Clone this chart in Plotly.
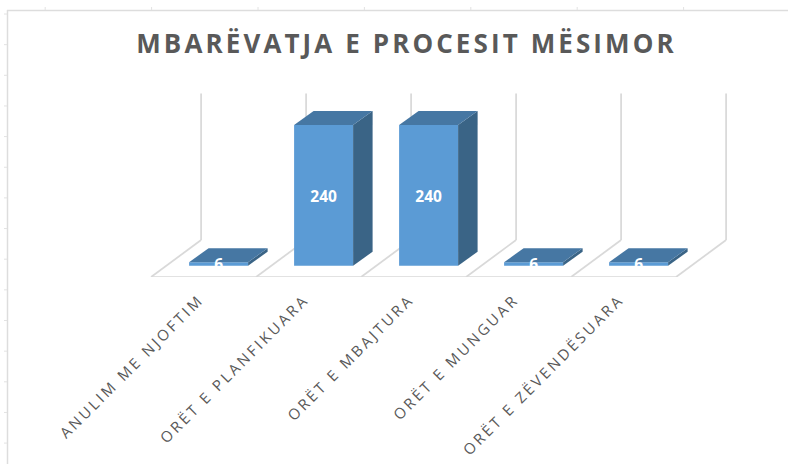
import plotly.graph_objects as go

categories = ["ANULIM ME NJOFTIM", "ORËT E PLANFIKUARA", "ORËT E MBAJTURA", "ORËT E MUNGUAR", "ORËT E ZËVENDËSUARA"]
values = [6, 240, 240, 6, 6]
axis_max = 250
title_text = "MBARËVATJA E PROCESIT MËSIMOR"

# picture scale of the category and value axes
W, H = 788, 464
PX_X = 105.0
PX_Y = 140.7 / 240
X0_PX = 218.6      # pixel of category 0 on the bars' plane
Y0_PX = 265.7      # pixel of value 0 on the bars' plane
FLOOR_PX = 277.0   # pixel of the front floor edge

BAR_W = 59 / PX_X
BAR_DX, BAR_DY = 19.5 / PX_X, 14 / PX_Y
FLOOR_LOW = -(FLOOR_PX - Y0_PX) / PX_Y
FLOOR_FX = -15 / PX_X
FLOOR_DX, FLOOR_DY = 50 / PX_X, 37 / PX_Y
TICK_FX = -19 / PX_X
LABEL_DROP = 2.5 / PX_Y

x_range = [-X0_PX / PX_X, (W - X0_PX) / PX_X]
y_range = [FLOOR_LOW, Y0_PX / PX_Y]

GRID = "#D9D9D9"
FRONT, TOP, SIDE = "#5B9BD5", "#4677A3", "#3A6486"

fig = go.Figure()
n = len(categories)
shapes = []

# floor and walls, behind the bars
grid_line = dict(color=GRID, width=1.75)
for k in range(n + 1):
    fx = k - 0.5 + FLOOR_FX
    rx, ry = fx + FLOOR_DX, FLOOR_LOW + FLOOR_DY
    shapes.append(dict(type="line", xref="x", yref="y", x0=fx, y0=FLOOR_LOW, x1=rx, y1=ry, line=grid_line, layer="below"))
    shapes.append(dict(type="line", xref="x", yref="y", x0=rx, y0=ry, x1=rx, y1=ry + axis_max, line=grid_line, layer="below"))
shapes.append(dict(type="line", xref="x", yref="y", x0=-0.5 + FLOOR_FX, y0=FLOOR_LOW, x1=n - 0.5 + FLOOR_FX, y1=FLOOR_LOW,
                   line=grid_line, layer="below"))

# chart frame with its small outer ticks, placed in pixels
def px(p):
    return p / W

def py(p):
    return (FLOOR_PX - p) / FLOOR_PX

frame = dict(color="#DDDDDD", width=1.5)
tick = dict(color="#E2E2E2", width=1)
shapes.append(dict(type="line", xref="paper", yref="paper", x0=px(7.5), y0=py(10), x1=px(7.5), y1=py(464), line=frame))
shapes.append(dict(type="line", xref="paper", yref="paper", x0=px(7), y0=py(10.5), x1=px(788), y1=py(10.5), line=frame))
for j in range(15):
    p = 14 + j * 30.65
    shapes.append(dict(type="line", xref="paper", yref="paper", x0=px(4), y0=py(p), x1=px(7), y1=py(p), line=tick))
for j in range(7):
    p = 45.2 + j * 106.4
    shapes.append(dict(type="line", xref="paper", yref="paper", x0=px(p), y0=py(7), x1=px(p), y1=py(10), line=tick))

# front faces
fig.add_trace(go.Bar(x=list(range(n)), y=values, width=BAR_W, marker=dict(color=FRONT, line=dict(width=0)),
                     showlegend=False, hoverinfo="skip"))

# depth faces of every bar
for i, v in enumerate(values):
    l, r = i - BAR_W / 2, i + BAR_W / 2
    fig.add_trace(go.Scatter(x=[r, r + BAR_DX, r + BAR_DX, r, r], y=[0, BAR_DY, v + BAR_DY, v, 0],
                             mode="lines", fill="toself", fillcolor=SIDE, line=dict(color=SIDE, width=0),
                             hoverinfo="skip", showlegend=False))
    fig.add_trace(go.Scatter(x=[l, r, r + BAR_DX, l + BAR_DX, l], y=[v, v, v + BAR_DY, v + BAR_DY, v],
                             mode="lines", fill="toself", fillcolor=TOP, line=dict(color=TOP, width=0),
                             hoverinfo="skip", showlegend=False))

# value labels, centred on the front face
fig.add_trace(go.Scatter(x=list(range(n)), y=[v / 2 - LABEL_DROP for v in values], mode="text",
                         text=[str(v) for v in values],
                         textfont=dict(family="Open Sans", size=15.5, color="white", weight="bold"),
                         textposition="middle center", hoverinfo="skip", showlegend=False))

fig.update_layout(
    width=W, height=H, autosize=False,
    margin=dict(l=0, r=0, t=0, b=H - FLOOR_PX),
    paper_bgcolor="white", plot_bgcolor="white",
    barmode="overlay",
    shapes=shapes,
    title=dict(text=title_text, x=406.5 / W, xanchor="center", y=1 - 44 / H, yanchor="middle",
               font=dict(family="Open Sans", size=26, color="#595959", weight="bold")),
    xaxis=dict(range=x_range, tickmode="array", tickvals=[i + TICK_FX for i in range(n)], ticktext=categories,
               tickangle=-45, showgrid=False, zeroline=False, showline=False, ticks="", ticklen=0,
               ticklabelstandoff=10,
               tickfont=dict(family="Open Sans", size=15, color="#595959"), automargin=False),
    yaxis=dict(range=y_range, visible=False, fixedrange=True),
)

css = """
document.body.style.margin='0';
document.documentElement.style.overflow='hidden';
document.querySelectorAll('.gtitle').forEach(function(t){t.style.letterSpacing='3.1px';});
document.querySelectorAll('.xtick text').forEach(function(t){t.style.letterSpacing='2.85px';});
"""
fig.write_html("out.html", post_script=css, config=dict(displayModeBar=False))
